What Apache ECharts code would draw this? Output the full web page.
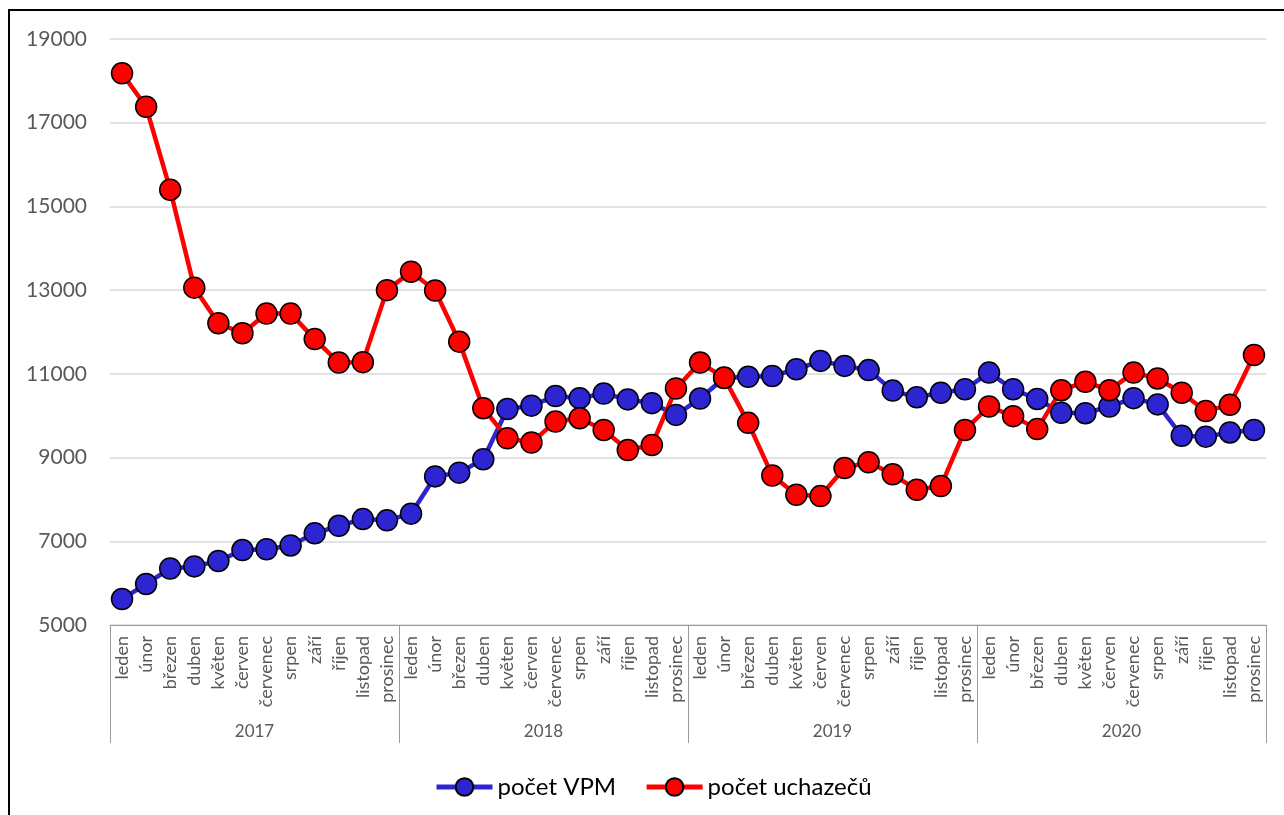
<!DOCTYPE html>
<html>
<head>
<meta charset="utf-8">
<script src="https://cdn.jsdelivr.net/npm/echarts@6/dist/echarts.min.js"></script>
<style>
  html, body { margin: 0; padding: 0; background: #fff; }
  #wrap { position: relative; width: 1284px; height: 815px; overflow: hidden; }
  #chart { position: absolute; left: 0; top: 0; width: 1284px; height: 815px; }
  #frame { position: absolute; left: 8px; top: 9px; width: 1400px; height: 900px;
           border: 2px solid #000; box-sizing: border-box; pointer-events: none; }
</style>
</head>
<body>
<div id="wrap">
  <div id="chart"></div>
  <div id="frame"></div>
</div>
<script>
const months = ['leden','únor','březen','duben','květen','červen','červenec','srpen','září','říjen','listopad','prosinec'];
const years = ['2017','2018','2019','2020'];
const yTicks = { min: 5000, max: 19000, interval: 2000 };

const vpm = [
  5620, 5980, 6350, 6400, 6530, 6790, 6810, 6900, 7190, 7370, 7530, 7500,
  7660, 8550, 8640, 8960, 10160, 10240, 10470, 10420, 10530, 10390, 10300, 10020,
  10410, 10900, 10930, 10950, 11110, 11310, 11190, 11090, 10600, 10440, 10550, 10630,
  11030, 10630, 10400, 10070, 10060, 10220, 10420, 10270, 9520, 9500, 9600, 9660
];
const uchazeci = [
  18180, 17380, 15400, 13060, 12210, 11970, 12440, 12440, 11830, 11270, 11280, 13000,
  13440, 12990, 11770, 10180, 9460, 9360, 9860, 9940, 9660, 9180, 9300, 10650,
  11270, 10910, 9830, 8570, 8110, 8080, 8750, 8890, 8600, 8230, 8320, 9660,
  10220, 9990, 9680, 10610, 10810, 10610, 11030, 10890, 10550, 10110, 10260, 11450
];

const categories = [];
years.forEach(y => months.forEach(m => categories.push(y + '|' + m)));

const FONT = 'Lato';
const BLUE = '#2D24D2';
const RED = '#FF0000';

const chart = echarts.init(document.getElementById('chart'), null, { renderer: 'canvas' });
chart.setOption({
  animation: false,
  textStyle: { fontFamily: FONT },
  grid: { left: 110, right: 18, top: 39, bottom: 190, containLabel: false },
  legend: {
    left: 429, top: 770,
    itemWidth: 56, itemHeight: 22, itemGap: 28,
    lineStyle: { width: 5 },
    textStyle: { fontFamily: FONT, fontSize: 24, color: '#000' },
    data: ['počet VPM', 'počet uchazečů']
  },
  xAxis: [
    {
      type: 'category',
      data: categories,
      boundaryGap: true,
      axisLine: { show: true, lineStyle: { color: '#9a9a9a', width: 1 } },
      axisTick: { show: false },
      axisLabel: {
        interval: 0, rotate: 90, margin: 11,
        fontFamily: FONT, fontSize: 18, color: '#595959',
        formatter: v => v.split('|')[1]
      },
      splitLine: { show: false }
    },
    {
      type: 'category',
      data: years,
      position: 'bottom',
      offset: 118,
      boundaryGap: true,
      axisLine: { show: false },
      axisTick: { show: true, inside: true, length: 118, lineStyle: { color: '#9a9a9a', width: 1 } },
      axisLabel: { inside: true, margin: 3, fontFamily: FONT, fontSize: 17, color: '#595959' },
      splitLine: { show: false }
    }
  ],
  yAxis: {
    type: 'value',
    min: yTicks.min, max: yTicks.max, interval: yTicks.interval,
    axisLine: { show: false },
    axisTick: { show: false },
    axisLabel: { fontFamily: FONT, fontSize: 21, color: '#595959', margin: 23, formatter: v => String(v) },
    splitLine: { show: true, lineStyle: { color: '#d9d9d9', width: 1.5 } }
  },
  series: [
    {
      name: 'počet VPM', type: 'line', xAxisIndex: 0, data: vpm,
      symbol: 'circle', symbolSize: 21,
      lineStyle: { color: BLUE, width: 4.5 },
      itemStyle: { color: BLUE, borderColor: '#000', borderWidth: 1.5 },
      emphasis: { disabled: true }
    },
    {
      name: 'počet uchazečů', type: 'line', xAxisIndex: 0, data: uchazeci,
      symbol: 'circle', symbolSize: 21,
      lineStyle: { color: RED, width: 4.5 },
      itemStyle: { color: RED, borderColor: '#000', borderWidth: 1.5 },
      emphasis: { disabled: true }
    }
  ]
});
</script>
</body>
</html>
